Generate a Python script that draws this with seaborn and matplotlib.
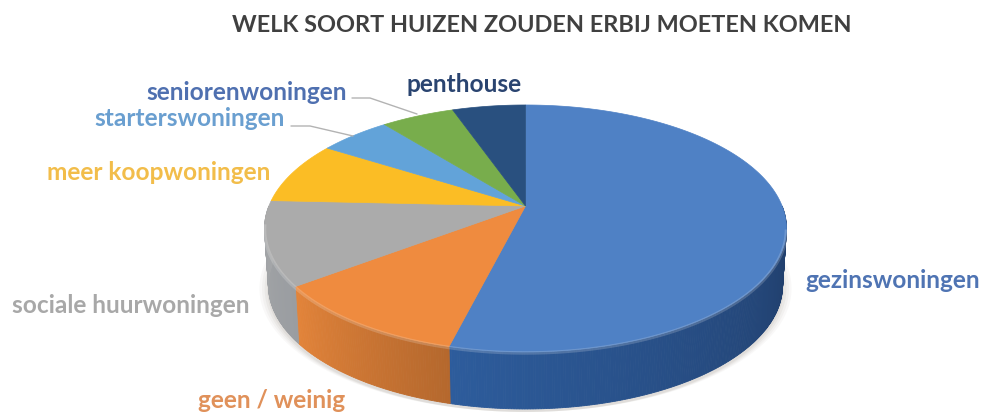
import numpy as np
import seaborn as sns
import matplotlib
matplotlib.use("Agg")
import matplotlib.pyplot as plt
from matplotlib.colors import to_rgb

# data
categories = ["gezinswoningen", "geen / weinig", "sociale huurwoningen", "meer koopwoningen",
              "starterswoningen", "seniorenwoningen", "penthouse"]
values = [54.0, 10.8, 11.0, 8.2, 5.3, 5.4, 5.4]
title = "WELK SOORT HUIZEN ZOUDEN ERBIJ MOETEN KOMEN"

# colours
top_colors = ["#4f81c5", "#ef8b3f", "#ababab", "#fbbd25", "#62a3d9", "#78ad4c", "#29507f"]
side_right = ["#1f3b66", "#b5682d", "#9a9da1", "#c99a20", "#4f83ae", "#60893d", "#203f66"]
side_left = ["#2d5c9c", "#e3843a", "#a4a6a8", "#c99a20", "#4f83ae", "#60893d", "#203f66"]
label_colors = ["#4f74b3", "#e0915a", "#a8a8a8", "#f2bd4a", "#6a9fd0", "#4f70b0", "#2a4470"]

# where the labels go: x, y, horizontal alignment
label_pos = [(805, 281, "left"), (345, 401, "right"), (250, 306, "right"), (270, 173, "right"),
             (285, 119, "right"), (347, 92, "right"), (522, 84, "right")]

sns.set_theme(style="white")
plt.rcParams["font.family"] = ["Lato", "DejaVu Sans"]
palette = sns.color_palette(top_colors)

fig = plt.figure(figsize=(9.81, 4.14), dpi=100)
ax = fig.add_axes([0, 0, 1, 1])
ax.set_xlim(0, 981)
ax.set_ylim(414, 0)
ax.axis("off")

# tilted pie: circle seen in perspective, so the middle sits above the ellipse centre
cx, cy = 525.5, 207
a, b, k = 119.4, 256.6, 0.182
depth = 57
bottom_shrink = 0.985


def rim(theta, grow=1.0):
    # theta in degrees, clockwise from the top
    t = np.radians(theta)
    u, v = np.sin(t), np.cos(t)
    w = 1 + k * v
    return cx + grow * b * u / w, cy - grow * a * v / w


def rim_low(theta):
    x, y = rim(theta)
    return cx + (x - cx) * bottom_shrink, y + depth


# soft shadow under the pie
all_t = np.linspace(0, 360, 361)
for g, al in [(1.035, 0.05), (1.025, 0.06), (1.015, 0.08), (1.005, 0.1)]:
    x, y = rim_low(all_t)
    ax.fill(cx + (x - cx) * g, y + 3, color="#8c8478", alpha=al, lw=0, zorder=1)

ends = np.cumsum(values) / np.sum(values) * 360
starts = np.concatenate([[0], ends[:-1]])

# side wall first, the top goes over the back part of it
for i in range(len(values)):
    # only the front half can be seen
    s0, s1 = max(starts[i], 90), min(ends[i], 270)
    if s1 <= s0:
        continue
    steps = np.linspace(s0, s1, max(int(s1 - s0) * 2, 4))
    c0, c1 = np.array(to_rgb(side_right[i])), np.array(to_rgb(side_left[i]))
    for j in range(len(steps) - 1):
        x0, y0 = rim(steps[j])
        x1, y1 = rim(steps[j + 1])
        x2, y2 = rim_low(steps[j + 1])
        x3, y3 = rim_low(steps[j])
        f = j / (len(steps) - 2)
        col = c0 + (c1 - c0) * f
        ax.fill([x0, x1, x2, x3], [y0, y1, y2, y3], color=col, ec=col, lw=0.6, zorder=2)

# top of the pie
for i in range(len(values)):
    t = np.linspace(starts[i], ends[i], 200)
    x, y = rim(t)
    ax.fill(np.r_[cx, x], np.r_[cy, y], color=palette[i], ec=palette[i], lw=0.5, zorder=3)
    # light edge along the front
    front = t[(t > 100) & (t < 262)]
    if len(front) > 1:
        xf, yf = rim(front)
        ax.plot(xf, yf + 1, color="white", alpha=0.18, lw=2.5, zorder=4, solid_capstyle="butt")

# leader lines
ax.plot([352, 370, 417], [99, 99, 115], color="#b3b3b3", lw=1, zorder=5)
ax.plot([291, 310, 353], [127, 127, 137], color="#b3b3b3", lw=1, zorder=5)

# labels
for name, col, (lx, ly, ha) in zip(categories, label_colors, label_pos):
    ax.text(lx, ly, name, color=col, fontsize=17.6, fontweight="bold", ha=ha, va="center", zorder=6)

ax.text(541.5, 26, title, color="#404040", fontsize=16.9, fontweight="bold", ha="center", va="center")

sns.despine(ax=ax, left=True, bottom=True)
fig.savefig("out.png", dpi=100)
